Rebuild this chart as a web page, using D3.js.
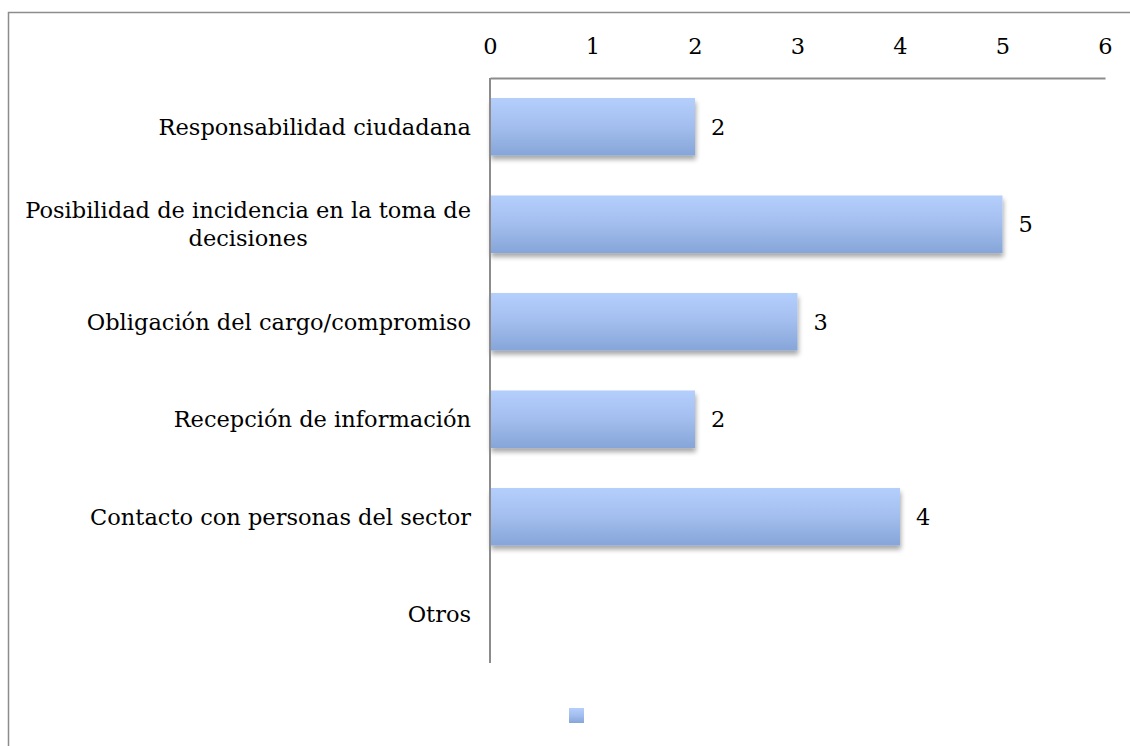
<!DOCTYPE html>
<html>
<head>
<meta charset="utf-8">
<script src="https://cdn.jsdelivr.net/npm/d3@7"></script>
<style>
  html, body { margin: 0; padding: 0; background: #fff; }
  svg { display: block; }
  text { font-family: "DejaVu Serif", serif; fill: #000; }
</style>
</head>
<body>
<svg id="chart" width="1130" height="746"></svg>
<script>
const categories = [
  "Responsabilidad ciudadana",
  "Posibilidad de incidencia en la toma de decisiones",
  "Obligación del cargo/compromiso",
  "Recepción de información",
  "Contacto con personas del sector",
  "Otros"
];
const values = [2, 5, 3, 2, 4, null];
const tickValues = [0, 1, 2, 3, 4, 5, 6];

const svg = d3.select("#chart");
const W = 1130, H = 746;
const plot = { left: 490, right: 1105, top: 78, bottom: 663 };
const fontSize = 22.5;

// Outer frame
svg.append("rect")
  .attr("x", 8.5).attr("y", 12.5)
  .attr("width", W + 20).attr("height", H + 20)
  .attr("fill", "none").attr("stroke", "#8c8c8c").attr("stroke-width", 1.5);

const defs = svg.append("defs");
const grad = defs.append("linearGradient")
  .attr("id", "barFill").attr("x1", 0).attr("y1", 0).attr("x2", 0).attr("y2", 1);
grad.append("stop").attr("offset", "0%").attr("stop-color", "#b4cffc");
grad.append("stop").attr("offset", "45%").attr("stop-color", "#a5c0f0");
grad.append("stop").attr("offset", "100%").attr("stop-color", "#86a5d8");

const shadow = defs.append("filter").attr("id", "shadow")
  .attr("x", "-5%").attr("y", "-20%").attr("width", "115%").attr("height", "150%");
shadow.append("feGaussianBlur").attr("in", "SourceAlpha").attr("stdDeviation", 2.5).attr("result", "b");
shadow.append("feOffset").attr("in", "b").attr("dx", 1).attr("dy", 4).attr("result", "o");
shadow.append("feComponentTransfer").attr("in", "o").attr("result", "s")
  .append("feFuncA").attr("type", "linear").attr("slope", 0.35);
const merge = shadow.append("feMerge");
merge.append("feMergeNode").attr("in", "s");
merge.append("feMergeNode").attr("in", "SourceGraphic");

const x = d3.scaleLinear().domain([0, 6]).range([plot.left, plot.right]);
const y = d3.scaleBand().domain(categories).range([plot.top, plot.bottom]).paddingInner(0.41).paddingOuter(0.205);

const rows = categories.map((c, i) => ({ c, v: values[i] })).filter(d => d.v != null);

// Bars
svg.append("g").selectAll("rect")
  .data(rows)
  .join("rect")
  .attr("x", x(0))
  .attr("y", d => y(d.c))
  .attr("width", d => x(d.v) - x(0))
  .attr("height", y.bandwidth())
  .attr("fill", "url(#barFill)")
  .attr("filter", "url(#shadow)");

// Value labels
svg.append("g").selectAll("text")
  .data(rows)
  .join("text")
  .attr("x", d => x(d.v) + 16)
  .attr("y", d => y(d.c) + y.bandwidth() / 2)
  .attr("dy", "0.35em")
  .attr("font-size", fontSize)
  .text(d => d.v);

// Top axis
const xAxis = svg.append("g")
  .attr("transform", `translate(0,${plot.top})`)
  .call(d3.axisTop(x).tickValues(tickValues).tickSize(0).tickPadding(24).tickFormat(d3.format("d")));
xAxis.select(".domain").attr("stroke", "#8c8c8c").attr("stroke-width", 2);
xAxis.selectAll("text").attr("font-size", fontSize).attr("font-family", "DejaVu Serif, serif");

// Left axis line
svg.append("line")
  .attr("x1", plot.left).attr("x2", plot.left)
  .attr("y1", plot.top).attr("y2", plot.bottom)
  .attr("stroke", "#8c8c8c").attr("stroke-width", 2);

// Category labels, wrapped to fit the margin and centred as a block
const maxW = 460;
const labelRight = plot.left - 19;
const lh = 28;
const labelG = svg.append("g");
const probe = labelG.append("text").attr("font-size", fontSize);
const measure = s => { probe.text(s); return probe.node().getComputedTextLength(); };
categories.forEach(c => {
  const cy = y(c) + y.bandwidth() / 2;
  const lines = [];
  let line = [];
  c.split(" ").forEach(w => {
    const test = line.concat(w).join(" ");
    if (measure(test) > maxW && line.length) {
      lines.push(line.join(" "));
      line = [w];
    } else line.push(w);
  });
  lines.push(line.join(" "));
  const widest = d3.max(lines, measure);
  const t = labelG.append("text").attr("font-size", fontSize);
  if (lines.length === 1) {
    t.attr("text-anchor", "end").attr("x", labelRight).attr("y", cy).attr("dy", "0.35em").text(lines[0]);
  } else {
    const cx = labelRight - widest / 2;
    t.attr("text-anchor", "middle");
    lines.forEach((l, i) => {
      t.append("tspan")
        .attr("x", cx)
        .attr("y", cy + (i - (lines.length - 1) / 2) * lh)
        .attr("dy", "0.35em")
        .text(l);
    });
  }
});
probe.remove();

// Legend swatch
svg.append("rect")
  .attr("x", 569).attr("y", 708).attr("width", 15).attr("height", 15)
  .attr("fill", "url(#barFill)");
</script>
</body>
</html>
